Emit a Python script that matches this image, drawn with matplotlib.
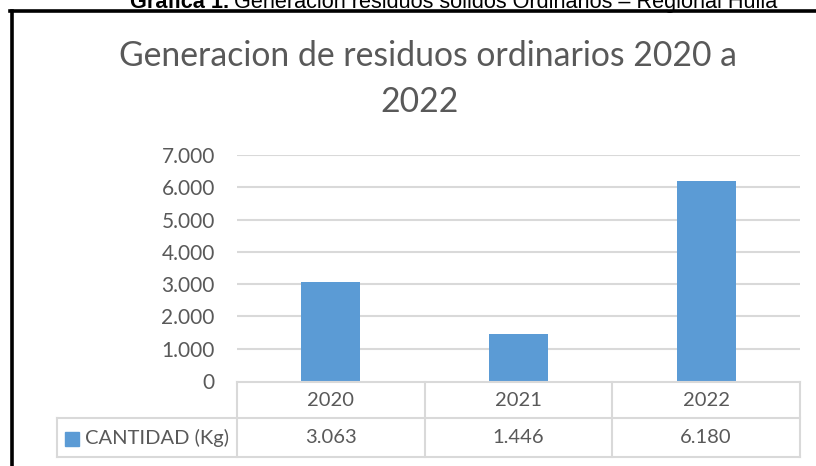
import matplotlib
matplotlib.use("Agg")
import matplotlib.pyplot as plt
from matplotlib.lines import Line2D
from matplotlib.patches import Rectangle

# data
years = ["2020", "2021", "2022"]
cantidad_kg = [3063, 1446, 6180]
series_name = "CANTIDAD (Kg)"
y_ticks = [0, 1000, 2000, 3000, 4000, 5000, 6000, 7000]

BLUE = "#5B9BD5"
GREY_TXT = "#595959"
GRID = "#D9D9D9"
FONT = ["Lato", "DejaVu Sans"]


def miles(v):
    # thousands with a dot, as in es-CO
    return f"{v:,.0f}".replace(",", ".")


W, H = 816, 466
fig = plt.figure(figsize=(W / 100, H / 100), dpi=100)
fig.patch.set_facecolor("white")


def fx(px):
    return px / W


def fy(py):
    return 1 - py / H


# frame around the chart (left and top only show)
fig.add_artist(Line2D([fx(11.5), fx(11.5)], [fy(11), fy(470)], color="black", lw=2.6))
fig.add_artist(Line2D([fx(10), fx(820)], [fy(11.3), fy(11.3)], color="black", lw=2.6))

# caption above the frame
cap_font = ["Liberation Sans Narrow", "Liberation Sans", "DejaVu Sans"]
t1 = fig.text(fx(130), fy(8), "Grafica 1.", fontsize=15.6, fontweight="bold",
              family=cap_font, va="baseline", ha="left")
fig.canvas.draw()
bb = t1.get_window_extent(fig.canvas.get_renderer())
fig.text(bb.x1 / W + fx(5), fy(8), "Generacion residuos solidos Ordinarios – Regional Huila",
         fontsize=15.6, family=cap_font, va="baseline", ha="left")

# chart title
fig.text(fx(428), fy(66), "Generacion de residuos ordinarios 2020 a", fontsize=24.3,
         color=GREY_TXT, family=FONT, ha="center", va="baseline")
fig.text(fx(420), fy(112), "2022", fontsize=24.3, color=GREY_TXT, family=FONT,
         ha="center", va="baseline")

# bar area
x0, x1 = 237, 800
col_px = (x1 - x0) / len(years)
ax = fig.add_axes([fx(x0), fy(381), fx(x1) - fx(x0), fy(155) - fy(381)])
xs = range(len(years))
ax.bar(xs, cantidad_kg, width=0.315, color=BLUE, zorder=3)
ax.set_xlim(-0.5, len(years) - 0.5)
ax.set_ylim(0, 7000)
ax.set_yticks(y_ticks)
ax.set_yticklabels([miles(v) for v in y_ticks], family=FONT, fontsize=15, color=GREY_TXT)
ax.tick_params(axis="y", length=0, pad=16)
ax.set_xticks([])
for s in ax.spines.values():
    s.set_visible(False)
for v in y_ticks[1:]:
    ax.axhline(v, color=GRID, lw=1.5, zorder=1)

# data table under the bars
tab = fig.add_axes([fx(x0), fy(457), fx(x1) - fx(x0), fy(382) - fy(457)])
tab.set_xlim(-0.5, len(years) - 0.5)
tab.set_ylim(0, 2)
tab.axis("off")
left = -0.5 - (x0 - 57) / col_px
lk = dict(color=GRID, lw=1.5, clip_on=False)
tab.plot([-0.5, 2.5], [2, 2], **lk)
tab.plot([left, 2.5], [1.04, 1.04], **lk)
tab.plot([left, 2.5], [0, 0], **lk)
tab.plot([left, left], [0, 1.04], **lk)
for i in range(len(years) + 1):
    tab.plot([i - 0.5, i - 0.5], [0, 2], **lk)
for i, (yr, v) in enumerate(zip(years, cantidad_kg)):
    tab.text(i, 1.52, yr, ha="center", va="center", fontsize=14.5, color=GREY_TXT, family=FONT)
    tab.text(i, 0.52, miles(v), ha="center", va="center", fontsize=14.5, color=GREY_TXT, family=FONT)

# series key in the first cell
tab.add_patch(Rectangle((-0.5 - (x0 - 65) / col_px, 0.3), 14 / col_px, 0.38,
                        color=BLUE, clip_on=False))
tab.text(-0.5 - 8 / col_px, 0.52, series_name, ha="right", va="center", fontsize=14.5,
         color=GREY_TXT, family=FONT)

fig.savefig("out.png", dpi=100)
